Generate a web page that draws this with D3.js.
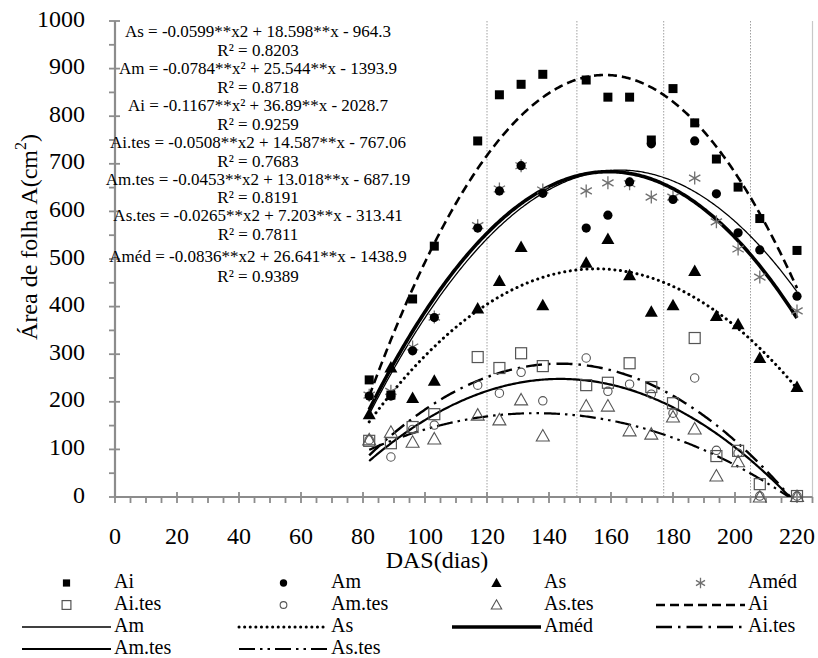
<!DOCTYPE html>
<html><head><meta charset="utf-8">
<script src="https://cdn.jsdelivr.net/npm/d3@7"></script>
<style>body{margin:0;background:#fff}svg{display:block}</style>
</head><body><svg id="c" width="818" height="658" font-family="'Liberation Serif', 'DejaVu Serif', serif"></svg>
<script>
// ---- data ----
const days  = [82,89,96,103,117,124,131,138,152,159,166,173,180,187,194,201,208,220];
const Ai    = [246,214,416,527,748,845,867,888,876,840,840,750,858,786,710,651,585,518];
const Am    = [212,212,307,377,565,643,696,638,565,592,662,742,625,748,637,555,519,422];
const As    = [174,272,208,244,396,454,525,403,492,542,466,389,403,475,380,363,292,231];
const Amed  = [214,222,315,378,570,647,696,645,643,660,658,630,630,670,578,521,462,391];
const Aites = [118,113,147,174,294,271,302,275,235,240,281,231,197,334,86,97,27,2];
const Amtes = [120,84,142,151,235,218,262,202,292,222,237,216,176,250,98,92,2,2];
const Astes = [120,136,115,122,172,162,204,128,191,191,139,132,168,143,44,74,0,1];
// quadratic trend coefficients [a, b, c]
const fitNames = ["Ai","Am","As","Améd","Ai.tes","Am.tes","As.tes"];
const fitCoefs = [[-0.1167,36.89,-2028.7],[-0.0784,25.544,-1393.9],[-0.0599,18.598,-964.3],
                  [-0.0836,26.641,-1438.9],[-0.0508,14.587,-767.06],[-0.0453,13.018,-687.19],[-0.0265,7.203,-313.41]];
const equations = ["As = -0.0599**x2 + 18.598**x - 964.3","R² = 0.8203",
  "Am = -0.0784**x² + 25.544**x - 1393.9","R² = 0.8718",
  "Ai = -0.1167**x² + 36.89**x - 2028.7","R² = 0.9259",
  "Ai.tes = -0.0508**x2 + 14.587**x - 767.06","R² = 0.7683",
  "Am.tes = -0.0453**x2 + 13.018**x - 687.19","R² = 0.8191",
  "As.tes = -0.0265**x2 + 7.203**x - 313.41","R² = 0.7811",
  "Améd = -0.0836**x2 + 26.641**x - 1438.9","R² = 0.9389"];
const refLines = [120,149,177,205];
const xTickLabels = d3.range(0,221,20);
const yTickLabels = d3.range(0,1001,100);

// ---- layout ----
const FONT = "'Liberation Serif', 'DejaVu Serif', serif";
const svg = d3.select("#c");
const x = d3.scaleLinear().domain([0,225]).range([115,812.5]);
const y = d3.scaleLinear().domain([0,1000]).range([497,21]);
const axisCol = "#8c8c8c";

svg.append("defs").append("clipPath").attr("id","pc").append("rect")
  .attr("x",115).attr("y",15).attr("width",700).attr("height",482);

// reference dotted lines
svg.selectAll(".ref").data(refLines).join("line")
  .attr("x1",d=>x(d)).attr("x2",d=>x(d)).attr("y1",y(1000)).attr("y2",y(0))
  .attr("stroke","#a0a0a0").attr("stroke-width",1).attr("stroke-dasharray","1.5,1.5");
// right border
svg.append("line").attr("x1",812.5).attr("x2",812.5).attr("y1",y(1000)).attr("y2",y(0))
  .attr("stroke","#c8c8c8").attr("stroke-width",1.2);

// axes
const gx = svg.append("g");
gx.append("line").attr("x1",x(0)).attr("x2",x(225)).attr("y1",y(0)).attr("y2",y(0)).attr("stroke",axisCol).attr("stroke-width",2.2);
gx.selectAll(".t").data(d3.range(0,226,5)).join("line")
  .attr("x1",d=>x(d)).attr("x2",d=>x(d))
  .attr("y1",d=>d%20===0?y(0)-5:y(0)).attr("y2",y(0)+6)
  .attr("stroke",axisCol).attr("stroke-width",1.8);
gx.selectAll(".l").data(xTickLabels).join("text")
  .attr("x",d=>x(d)).attr("y",538).attr("text-anchor","middle").attr("dominant-baseline","middle")
  .attr("font-family",FONT).attr("font-size",24).text(d=>d);
const gy = svg.append("g");
gy.append("line").attr("x1",x(0)).attr("x2",x(0)).attr("y1",y(0)).attr("y2",y(1000)).attr("stroke",axisCol).attr("stroke-width",2.2);
gy.selectAll(".t").data(d3.range(0,1001,50)).join("line")
  .attr("y1",d=>y(d)).attr("y2",d=>y(d))
  .attr("x1",x(0)-6).attr("x2",d=>d%100===0?x(0)+5:x(0))
  .attr("stroke",axisCol).attr("stroke-width",1.8);
gy.selectAll(".l").data(yTickLabels).join("text")
  .attr("x",85).attr("y",d=>y(d)).attr("text-anchor","end").attr("dominant-baseline","middle")
  .attr("font-family",FONT).attr("font-size",24).text(d=>d);

// axis titles
svg.append("text").attr("transform","translate(31,237) rotate(-90)").attr("text-anchor","middle")
  .attr("dominant-baseline","middle").attr("font-family",FONT).attr("font-size",24)
  .html('Área de folha A(cm<tspan dy="-9" font-size="16">2</tspan><tspan dy="9">)</tspan>');
svg.append("text").attr("x",437).attr("y",562).attr("text-anchor","middle").attr("dominant-baseline","middle")
  .attr("font-family",FONT).attr("font-size",24).text("DAS(dias)");

// trend line styles
const styles = {
  "Ai":    {w:2.6, dash:"9,5", cap:"butt"},
  "Am":    {w:1.3, dash:null, cap:"butt"},
  "As":    {w:3, dash:"0.1,5.5", cap:"round"},
  "Améd":  {w:3.6, dash:null, cap:"butt"},
  "Ai.tes":{w:2.4, dash:"16,6,2.5,6", cap:"butt"},
  "Am.tes":{w:2.2, dash:null, cap:"butt"},
  "As.tes":{w:2.2, dash:"16,5,2.5,5,2.5,5", cap:"butt"}
};
const xs = d3.range(82,220.01,0.5);
const lineGen = d3.line().x(d=>x(d[0])).y(d=>y(d[1]));
const curves = svg.append("g").attr("clip-path","url(#pc)");
fitNames.forEach((n,i)=>{
  const [a,b,c] = fitCoefs[i];
  const pts = xs.map(t=>[t, a*t*t+b*t+c]);
  const s = styles[n];
  curves.append("path").attr("d",lineGen(pts)).attr("fill","none").attr("stroke","#000")
    .attr("stroke-width",s.w).attr("stroke-dasharray",s.dash).attr("stroke-linecap",s.cap);
});

// marker drawing
function marker(g, type, cx, cy, k){
  k = k||1;
  if(type==="sqF") g.append("rect").attr("x",cx-4.5*k).attr("y",cy-4.5*k).attr("width",9*k).attr("height",9*k).attr("fill","#000");
  else if(type==="cirF") g.append("circle").attr("cx",cx).attr("cy",cy).attr("r",4.6*k).attr("fill","#000");
  else if(type==="triF") g.append("path").attr("d",`M${cx},${cy-6.5*k}L${cx+6.5*k},${cy+5*k}L${cx-6.5*k},${cy+5*k}Z`).attr("fill","#000");
  else if(type==="ast"){ const r=6.5*k;
    g.append("path").attr("d",`M${cx},${cy-r}L${cx},${cy+r}M${cx-r*0.87},${cy-r*0.5}L${cx+r*0.87},${cy+r*0.5}M${cx-r*0.87},${cy+r*0.5}L${cx+r*0.87},${cy-r*0.5}`)
      .attr("stroke","#707070").attr("stroke-width",1.3).attr("fill","none"); }
  else if(type==="sqO") g.append("rect").attr("x",cx-5.5*k).attr("y",cy-5.5*k).attr("width",11*k).attr("height",11*k).attr("fill","none").attr("stroke","#555").attr("stroke-width",1.2);
  else if(type==="cirO") g.append("circle").attr("cx",cx).attr("cy",cy).attr("r",4.2*k).attr("fill","none").attr("stroke","#555").attr("stroke-width",1.1);
  else if(type==="triO") g.append("path").attr("d",`M${cx},${cy-6.5*k}L${cx+6.5*k},${cy+5*k}L${cx-6.5*k},${cy+5*k}Z`).attr("fill","none").attr("stroke","#555").attr("stroke-width",1.1);
}
const series = [
  {name:"Ai.tes", vals:Aites, m:"sqO"},
  {name:"Am.tes", vals:Amtes, m:"cirO"},
  {name:"As.tes", vals:Astes, m:"triO"},
  {name:"Améd", vals:Amed, m:"ast"},
  {name:"As", vals:As, m:"triF"},
  {name:"Am", vals:Am, m:"cirF"},
  {name:"Ai", vals:Ai, m:"sqF"}
];
const pg = svg.append("g");
series.forEach(s=>{ s.vals.forEach((v,i)=>marker(pg, s.m, x(days[i]), y(v))); });

// equations
svg.selectAll(".eq").data(equations).join("text")
  .attr("x",258).attr("y",(d,i)=>[33,52,70,89,107,126,144,163,181,199,217,236,258,278][i])
  .attr("text-anchor","middle").attr("dominant-baseline","middle")
  .attr("font-family",FONT).attr("font-size",17)
  .text(d=>d);

// legend
const legendItems = [
  {t:"Ai",k:"sqF"},{t:"Am",k:"cirF"},{t:"As",k:"triF"},{t:"Améd",k:"ast"},
  {t:"Ai.tes",k:"sqO"},{t:"Am.tes",k:"cirO"},{t:"As.tes",k:"triO"},{t:"Ai",k:"line"},
  {t:"Am",k:"line"},{t:"As",k:"line"},{t:"Améd",k:"line"},{t:"Ai.tes",k:"line"},
  {t:"Am.tes",k:"line"},{t:"As.tes",k:"line"}
];
const colText = [114,331,544,748], rowY = [583,605,627,649];
const lg = svg.append("g");
legendItems.forEach((it,i)=>{
  const col=i%4, row=Math.floor(i/4);
  const tx=colText[col], ty=rowY[row], ks=tx-92, ke=tx-3;
  if(it.k==="line"){
    const s=styles[it.t];
    lg.append("line").attr("x1",ks).attr("x2",ke).attr("y1",ty).attr("y2",ty).attr("stroke","#000")
      .attr("stroke-width",s.w).attr("stroke-dasharray",s.dash).attr("stroke-linecap",s.cap);
  } else marker(lg, it.k, (ks+ke)/2, ty, 0.8);
  lg.append("text").attr("x",tx).attr("y",ty).attr("dominant-baseline","middle")
    .attr("font-family",FONT).attr("font-size",20).text(it.t);
});
</script></body></html>
